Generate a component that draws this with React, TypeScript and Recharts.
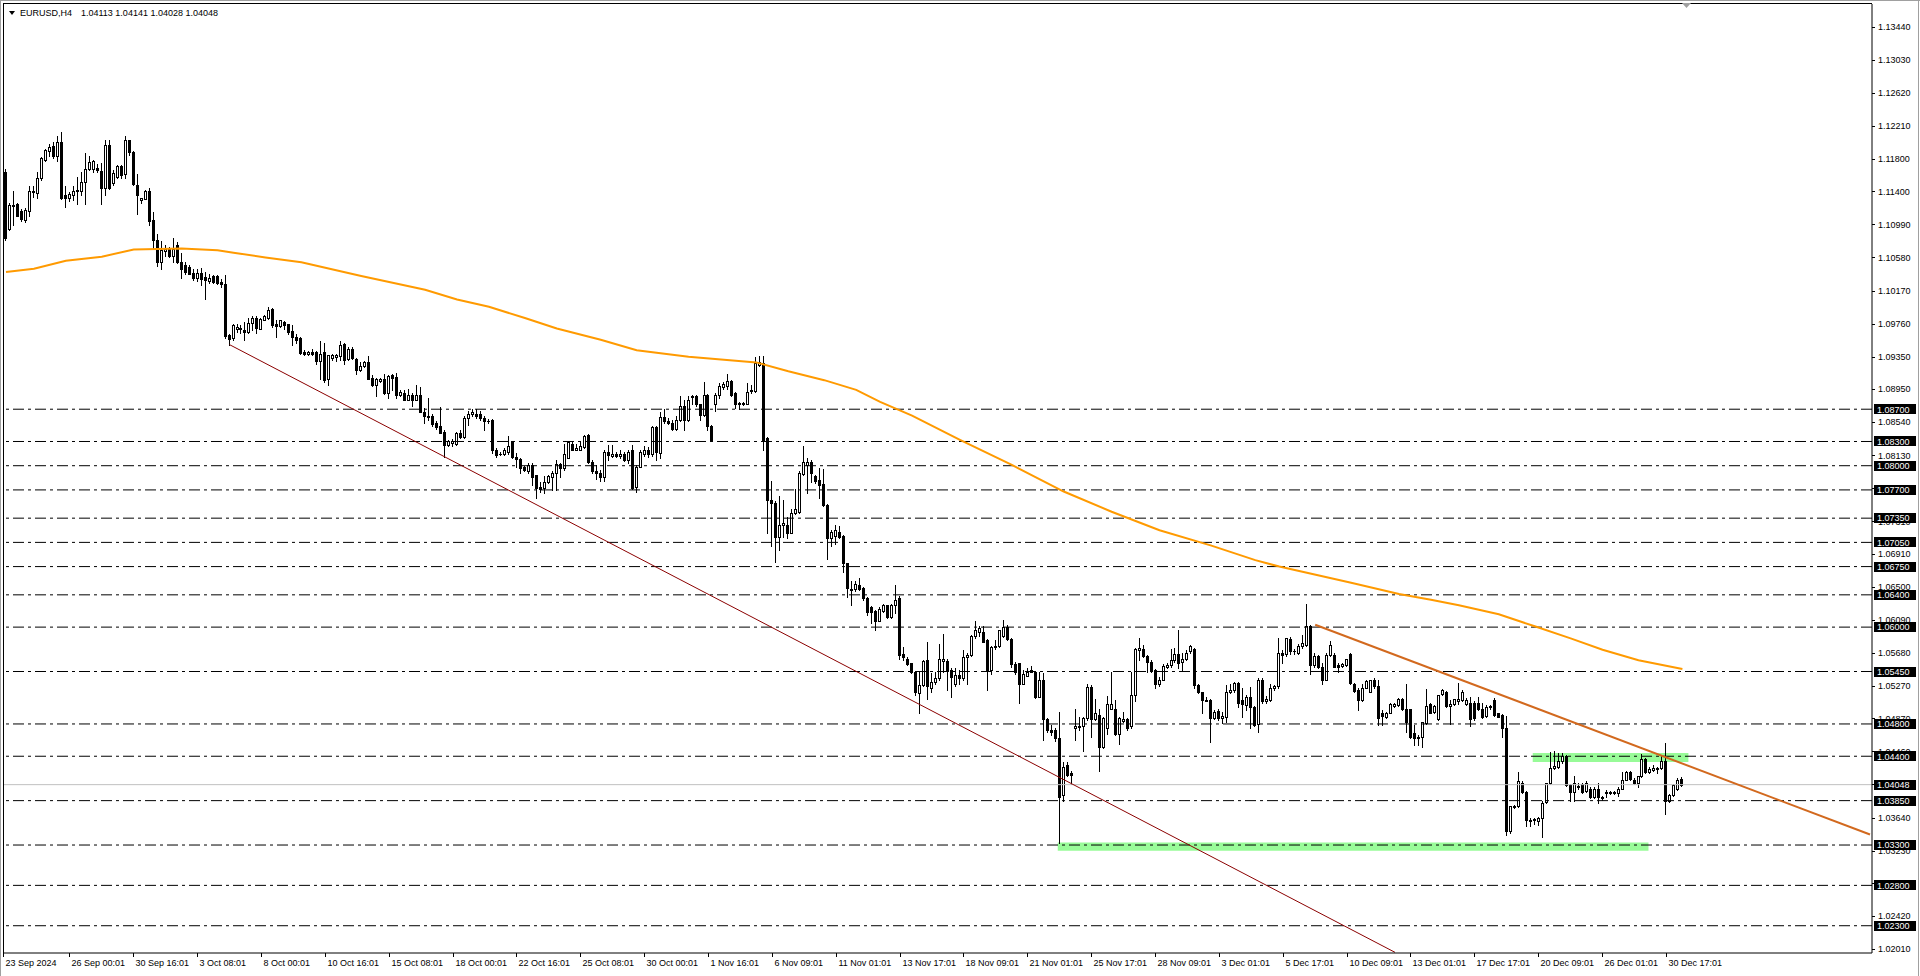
import { ComposedChart, Bar, Line, XAxis, YAxis, ReferenceLine, ReferenceArea } from 'recharts';

const FONT = '"Liberation Sans", Arial, sans-serif';

// bar slots on the time axis: slot 2 = 23 Sep 2024 08:01, slot 422 = 31 Dec 09:01,
// the axis carries on to slot 469 (MT4 chart shift)
const firstSlot = 2;
const lastSlot = 469;

// EURUSD H4, [open, high, low, close] from slot 2 onward
const candles: number[][] = [
  [1.1164,1.1168,1.1080,1.1082],[1.1093,1.1126,1.1092,1.1123],[1.1123,1.1141,1.1098,1.1122],[1.1124,1.1126,1.1109,1.1110],
  [1.1116,1.1118,1.1103,1.1106],[1.1104,1.1119,1.1102,1.1117],[1.1115,1.1146,1.1110,1.1141],[1.1141,1.1147,1.1133,1.1139],
  [1.1138,1.1164,1.1132,1.1157],[1.1157,1.1183,1.1154,1.1181],[1.1179,1.1193,1.1177,1.1191],[1.1190,1.1199,1.1184,1.1195],
  [1.1196,1.1201,1.1181,1.1184],[1.1184,1.1208,1.1177,1.1201],[1.1201,1.1214,1.1130,1.1132],[1.1135,1.1146,1.1121,1.1132],
  [1.1132,1.1139,1.1128,1.1137],[1.1135,1.1146,1.1129,1.1141],[1.1141,1.1158,1.1124,1.1142],[1.1141,1.1164,1.1135,1.1151],
  [1.1151,1.1188,1.1124,1.1168],[1.1168,1.1184,1.1167,1.1176],[1.1168,1.1179,1.1164,1.1177],[1.1169,1.1174,1.1164,1.1166],
  [1.1165,1.1175,1.1124,1.1144],[1.1144,1.1203,1.1135,1.1197],[1.1197,1.1203,1.1143,1.1144],[1.1150,1.1166,1.1148,1.1163],
  [1.1158,1.1173,1.1157,1.1171],[1.1171,1.1172,1.1156,1.1160],[1.1161,1.1208,1.1156,1.1203],[1.1203,1.1204,1.1185,1.1189],
  [1.1189,1.1190,1.1148,1.1149],[1.1148,1.1162,1.1112,1.1135],[1.1129,1.1132,1.1126,1.1132],[1.1131,1.1142,1.1130,1.1141],
  [1.1141,1.1144,1.1098,1.1103],[1.1104,1.1114,1.1069,1.1080],[1.1080,1.1087,1.1047,1.1052],[1.1053,1.1078,1.1044,1.1067],
  [1.1066,1.1073,1.1060,1.1068],[1.1068,1.1071,1.1059,1.1060],[1.1060,1.1082,1.1053,1.1068],[1.1073,1.1077,1.1051,1.1052],
  [1.1053,1.1063,1.1032,1.1044],[1.1049,1.1053,1.1038,1.1040],[1.1046,1.1049,1.1037,1.1038],[1.1039,1.1044,1.1030,1.1033],
  [1.1033,1.1044,1.1029,1.1039],[1.1039,1.1045,1.1024,1.1031],[1.1034,1.1040,1.1007,1.1030],[1.1029,1.1038,1.1026,1.1033],
  [1.1035,1.1036,1.1026,1.1028],[1.1035,1.1036,1.1025,1.1027],[1.1028,1.1031,1.1022,1.1025],[1.1025,1.1036,1.0958,1.0961],
  [1.0962,1.0963,1.0950,1.0957],[1.0958,1.0976,1.0956,1.0974],[1.0969,1.0976,1.0966,1.0972],[1.0969,1.0974,1.0965,1.0971],
  [1.0968,1.0978,1.0956,1.0966],[1.0966,1.0983,1.0965,1.0977],[1.0977,1.0985,1.0968,1.0983],[1.0983,1.0985,1.0964,1.0971],
  [1.0970,1.0983,1.0969,1.0982],[1.0981,1.0987,1.0980,1.0985],[1.0983,1.0997,1.0982,1.0993],[1.0994,1.0995,1.0972,1.0974],
  [1.0975,1.0980,1.0960,1.0973],[1.0973,1.0980,1.0972,1.0980],[1.0978,1.0979,1.0969,1.0974],[1.0975,1.0976,1.0963,1.0966],
  [1.0967,1.0974,1.0950,1.0959],[1.0959,1.0963,1.0952,1.0956],
  // slot 76
  [1.0958,1.0959,1.0938,1.0940],[1.0941,1.0943,1.0937,1.0939],[1.0938,1.0942,1.0937,1.0941],[1.0941,1.0944,1.0937,1.0939],
  [1.0941,1.0942,1.0926,1.0930],[1.0930,1.0955,1.0907,1.0939],[1.0941,1.0952,1.0904,1.0906],[1.0907,1.0937,1.0900,1.0937],
  [1.0933,1.0938,1.0931,1.0937],[1.0935,1.0939,1.0930,1.0937],[1.0936,1.0954,1.0931,1.0950],[1.0951,1.0952,1.0926,1.0931],
  [1.0932,1.0947,1.0931,1.0945],[1.0945,1.0947,1.0932,1.0933],[1.0932,1.0933,1.0914,1.0918],[1.0918,1.0929,1.0917,1.0923],
  [1.0923,1.0930,1.0922,1.0928],[1.0929,1.0936,1.0907,1.0908],[1.0909,1.0912,1.0899,1.0900],[1.0900,1.0909,1.0886,1.0908],
  [1.0905,1.0909,1.0904,1.0907],[1.0908,1.0914,1.0889,1.0890],[1.0890,1.0912,1.0884,1.0911],[1.0912,1.0914,1.0894,1.0909],
  [1.0910,1.0915,1.0884,1.0888],[1.0888,1.0894,1.0886,1.0891],[1.0890,1.0894,1.0881,1.0882],[1.0882,1.0895,1.0881,1.0887],
  [1.0887,1.0890,1.0874,1.0882],[1.0882,1.0900,1.0881,1.0888],[1.0887,1.0898,1.0866,1.0867],[1.0867,1.0871,1.0853,1.0861],
  [1.0860,1.0884,1.0857,1.0862],[1.0862,1.0864,1.0849,1.0852],[1.0853,1.0855,1.0846,1.0848],[1.0849,1.0873,1.0840,1.0841],
  [1.0842,1.0844,1.0811,1.0826],[1.0826,1.0832,1.0824,1.0830],[1.0828,1.0833,1.0824,1.0830],[1.0827,1.0842,1.0826,1.0840],
  [1.0840,1.0844,1.0834,1.0836],[1.0836,1.0861,1.0834,1.0859],[1.0859,1.0868,1.0851,1.0864],[1.0864,1.0870,1.0862,1.0867],
  [1.0864,1.0870,1.0859,1.0862],[1.0864,1.0868,1.0857,1.0859],[1.0859,1.0862,1.0844,1.0855],[1.0856,1.0858,1.0853,1.0855],
  [1.0857,1.0858,1.0816,1.0819],[1.0820,1.0822,1.0811,1.0813],[1.0815,1.0817,1.0813,1.0814],[1.0815,1.0822,1.0813,1.0819],
  [1.0817,1.0837,1.0815,1.0824],[1.0830,1.0831,1.0810,1.0811],[1.0811,1.0816,1.0799,1.0808],[1.0808,1.0809,1.0791,1.0797],
  [1.0798,1.0800,1.0793,1.0795],[1.0793,1.0803,1.0791,1.0801],[1.0801,1.0803,1.0776,1.0786],[1.0788,1.0789,1.0760,1.0772],
  [1.0773,1.0780,1.0768,1.0771],[1.0772,1.0787,1.0766,1.0780],[1.0780,1.0788,1.0778,1.0787],[1.0786,1.0793,1.0770,1.0791],
  [1.0791,1.0807,1.0770,1.0802],[1.0802,1.0803,1.0786,1.0797],[1.0797,1.0827,1.0795,1.0815],[1.0810,1.0830,1.0809,1.0829],
  [1.0827,1.0829,1.0819,1.0820],[1.0820,1.0827,1.0819,1.0822],[1.0820,1.0830,1.0819,1.0824],[1.0823,1.0838,1.0822,1.0837],
  [1.0838,1.0839,1.0803,1.0804],[1.0805,1.0807,1.0791,1.0793],[1.0793,1.0801,1.0784,1.0791],
  // slot 151
  [1.0791,1.0795,1.0781,1.0786],[1.0786,1.0820,1.0781,1.0817],[1.0817,1.0826,1.0807,1.0813],[1.0812,1.0826,1.0811,1.0815],
  [1.0815,1.0817,1.0811,1.0812],[1.0812,1.0820,1.0809,1.0815],[1.0815,1.0817,1.0806,1.0807],[1.0807,1.0820,1.0803,1.0817],
  [1.0820,1.0826,1.0771,1.0772],[1.0773,1.0801,1.0767,1.0799],[1.0799,1.0820,1.0798,1.0817],[1.0815,1.0824,1.0812,1.0820],
  [1.0820,1.0823,1.0811,1.0815],[1.0815,1.0849,1.0812,1.0848],[1.0848,1.0849,1.0807,1.0817],[1.0816,1.0867,1.0810,1.0860],
  [1.0860,1.0870,1.0853,1.0855],[1.0856,1.0859,1.0852,1.0853],[1.0853,1.0857,1.0844,1.0845],[1.0845,1.0861,1.0844,1.0857],
  [1.0857,1.0886,1.0855,1.0874],[1.0874,1.0881,1.0844,1.0857],[1.0857,1.0886,1.0855,1.0882],[1.0885,1.0888,1.0877,1.0886],
  [1.0886,1.0888,1.0874,1.0876],[1.0876,1.0877,1.0857,1.0863],[1.0863,1.0904,1.0862,1.0888],[1.0888,1.0889,1.0844,1.0849],
  [1.0849,1.0850,1.0830,1.0832],[1.0876,1.0890,1.0868,1.0888],[1.0888,1.0902,1.0884,1.0899],[1.0897,1.0904,1.0895,1.0901],
  [1.0899,1.0914,1.0895,1.0905],[1.0905,1.0906,1.0886,1.0888],[1.0890,1.0891,1.0871,1.0876],[1.0877,1.0879,1.0870,1.0878],
  [1.0876,1.0879,1.0875,1.0878],[1.0877,1.0902,1.0876,1.0891],[1.0892,1.0900,1.0890,1.0894],[1.0893,1.0935,1.0891,1.0927],
  [1.0925,1.0936,1.0923,1.0929],[1.0927,1.0936,1.0820,1.0832],[1.0834,1.0835,1.0717,1.0757],[1.0758,1.0781,1.0701,1.0754],
  [1.0754,1.0756,1.0681,1.0712],[1.0712,1.0762,1.0696,1.0727],[1.0727,1.0758,1.0712,1.0729],[1.0727,1.0737,1.0711,1.0717],
  [1.0717,1.0746,1.0716,1.0742],[1.0742,1.0771,1.0740,1.0746],[1.0743,1.0793,1.0741,1.0791],[1.0790,1.0824,1.0789,1.0804],
  [1.0801,1.0809,1.0766,1.0805],[1.0804,1.0807,1.0780,1.0791],[1.0787,1.0788,1.0778,1.0781],[1.0782,1.0797,1.0760,1.0776],
  [1.0777,1.0796,1.0750,1.0751],[1.0751,1.0753,1.0685,1.0710],[1.0710,1.0720,1.0700,1.0718],[1.0713,1.0727,1.0703,1.0720],
  [1.0718,1.0725,1.0711,1.0712],[1.0713,1.0714,1.0668,1.0679],[1.0679,1.0680,1.0637,1.0648],[1.0647,1.0657,1.0627,1.0646],
  [1.0647,1.0657,1.0645,1.0654],[1.0652,1.0661,1.0646,1.0647],[1.0649,1.0650,1.0634,1.0636],[1.0636,1.0637,1.0615,1.0619],
  [1.0625,1.0626,1.0605,1.0619],[1.0620,1.0621,1.0596,1.0607],[1.0608,1.0625,1.0607,1.0623],[1.0620,1.0629,1.0619,1.0627],
  [1.0627,1.0628,1.0611,1.0613],[1.0613,1.0629,1.0611,1.0627],[1.0627,1.0652,1.0617,1.0634],[1.0636,1.0638,1.0561,1.0565],
  // slot 227
  [1.0567,1.0575,1.0559,1.0563],[1.0561,1.0563,1.0553,1.0554],[1.0555,1.0556,1.0543,1.0544],[1.0544,1.0545,1.0516,1.0519],
  [1.0518,1.0545,1.0494,1.0528],[1.0528,1.0559,1.0527,1.0558],[1.0559,1.0581,1.0511,1.0527],[1.0524,1.0543,1.0520,1.0532],
  [1.0532,1.0545,1.0530,1.0537],[1.0537,1.0579,1.0535,1.0560],[1.0558,1.0591,1.0544,1.0560],[1.0558,1.0561,1.0522,1.0546],
  [1.0547,1.0549,1.0514,1.0538],[1.0530,1.0549,1.0527,1.0541],[1.0541,1.0547,1.0530,1.0537],[1.0537,1.0572,1.0535,1.0563],
  [1.0563,1.0568,1.0530,1.0565],[1.0565,1.0590,1.0564,1.0589],[1.0589,1.0607,1.0586,1.0596],[1.0594,1.0601,1.0589,1.0599],
  [1.0594,1.0601,1.0581,1.0582],[1.0584,1.0585,1.0522,1.0546],[1.0547,1.0577,1.0542,1.0575],[1.0577,1.0584,1.0573,1.0575],
  [1.0576,1.0597,1.0575,1.0596],[1.0589,1.0609,1.0588,1.0600],[1.0600,1.0603,1.0584,1.0585],[1.0585,1.0586,1.0551,1.0554],
  [1.0554,1.0557,1.0542,1.0544],[1.0555,1.0556,1.0506,1.0530],[1.0530,1.0547,1.0529,1.0542],[1.0540,1.0549,1.0539,1.0545],
  [1.0545,1.0552,1.0544,1.0547],[1.0545,1.0546,1.0512,1.0514],[1.0514,1.0545,1.0513,1.0534],[1.0534,1.0543,1.0460,1.0486],
  [1.0486,1.0487,1.0470,1.0472],[1.0472,1.0479,1.0466,1.0470],[1.0472,1.0475,1.0459,1.0462],[1.0462,1.0495,1.0332,1.0390],
  [1.0392,1.0433,1.0384,1.0427],[1.0429,1.0433,1.0415,1.0417],[1.0419,1.0422,1.0406,1.0417],[1.0475,1.0498,1.0460,1.0477],
  [1.0476,1.0489,1.0472,1.0478],[1.0477,1.0489,1.0447,1.0487],[1.0487,1.0530,1.0485,1.0526],[1.0526,1.0528,1.0464,1.0486],
  [1.0486,1.0511,1.0485,1.0494],[1.0491,1.0499,1.0422,1.0451],[1.0451,1.0489,1.0450,1.0487],[1.0475,1.0515,1.0468,1.0505],
  [1.0499,1.0544,1.0498,1.0505],[1.0499,1.0510,1.0466,1.0468],[1.0468,1.0489,1.0455,1.0487],[1.0484,1.0495,1.0483,1.0486],
  [1.0486,1.0487,1.0472,1.0475],[1.0477,1.0544,1.0475,1.0516],[1.0516,1.0574,1.0508,1.0573],[1.0572,1.0586,1.0559,1.0574],
  [1.0573,1.0578,1.0563,1.0564],[1.0564,1.0565,1.0545,1.0557],[1.0557,1.0559,1.0545,1.0546],[1.0547,1.0548,1.0525,1.0530],
  [1.0530,1.0538,1.0527,1.0535],[1.0535,1.0554,1.0534,1.0552],[1.0551,1.0555,1.0549,1.0553],[1.0553,1.0573,1.0551,1.0559],
  [1.0559,1.0574,1.0557,1.0567],[1.0567,1.0596,1.0549,1.0556],[1.0557,1.0568,1.0547,1.0561],[1.0560,1.0572,1.0559,1.0568],
  [1.0570,1.0578,1.0568,1.0577],[1.0573,1.0574,1.0525,1.0528],[1.0528,1.0530,1.0518,1.0519],[1.0519,1.0520,1.0494,1.0510],
  [1.0510,1.0514,1.0508,1.0509],[1.0510,1.0511,1.0458,1.0488],[1.0488,1.0497,1.0486,1.0495],[1.0496,1.0499,1.0485,1.0487],
  [1.0487,1.0495,1.0481,1.0490],[1.0489,1.0528,1.0482,1.0519],[1.0519,1.0530,1.0518,1.0522],[1.0522,1.0532,1.0519,1.0531],
  [1.0531,1.0532,1.0501,1.0506],[1.0510,1.0524,1.0489,1.0505],[1.0504,1.0516,1.0497,1.0513],[1.0513,1.0526,1.0475,1.0501],
  [1.0501,1.0502,1.0477,1.0479],[1.0480,1.0537,1.0470,1.0535],[1.0535,1.0537,1.0506,1.0508],[1.0509,1.0515,1.0506,1.0511],
  [1.0510,1.0530,1.0509,1.0524],
  // slot 320
  [1.0525,1.0528,1.0522,1.0527],[1.0527,1.0587,1.0524,1.0568],[1.0568,1.0572,1.0555,1.0566],[1.0567,1.0587,1.0564,1.0586],
  [1.0585,1.0588,1.0567,1.0570],[1.0570,1.0573,1.0567,1.0571],[1.0568,1.0579,1.0567,1.0577],[1.0576,1.0590,1.0574,1.0580],
  [1.0578,1.0629,1.0576,1.0601],[1.0601,1.0603,1.0542,1.0553],[1.0553,1.0568,1.0551,1.0564],[1.0564,1.0566,1.0549,1.0551],
  [1.0551,1.0555,1.0530,1.0535],[1.0535,1.0568,1.0534,1.0566],[1.0566,1.0583,1.0564,1.0578],[1.0566,1.0568,1.0550,1.0551],
  [1.0553,1.0555,1.0545,1.0551],[1.0552,1.0556,1.0550,1.0554],[1.0553,1.0561,1.0552,1.0560],[1.0567,1.0568,1.0530,1.0531],
  [1.0530,1.0531,1.0520,1.0521],[1.0522,1.0525,1.0497,1.0510],[1.0510,1.0530,1.0509,1.0525],[1.0525,1.0534,1.0524,1.0533],
  [1.0520,1.0535,1.0519,1.0534],[1.0534,1.0537,1.0525,1.0527],[1.0527,1.0535,1.0479,1.0487],[1.0493,1.0497,1.0479,1.0490],
  [1.0489,1.0495,1.0488,1.0494],[1.0494,1.0506,1.0493,1.0505],[1.0502,1.0506,1.0501,1.0505],[1.0504,1.0512,1.0502,1.0511],
  [1.0511,1.0512,1.0497,1.0499],[1.0499,1.0530,1.0470,1.0483],[1.0498,1.0499,1.0462,1.0464],[1.0469,1.0479,1.0454,1.0462],
  [1.0464,1.0466,1.0454,1.0463],[1.0464,1.0483,1.0451,1.0483],[1.0481,1.0523,1.0480,1.0502],[1.0505,1.0506,1.0493,1.0494],
  [1.0495,1.0504,1.0494,1.0502],[1.0486,1.0516,1.0485,1.0516],[1.0517,1.0523,1.0516,1.0522],[1.0519,1.0521,1.0501,1.0502],
  [1.0502,1.0510,1.0480,1.0505],[1.0505,1.0511,1.0504,1.0511],[1.0509,1.0531,1.0505,1.0511],[1.0510,1.0522,1.0509,1.0520],
  [1.0505,1.0512,1.0504,1.0510],[1.0506,1.0514,1.0477,1.0486],[1.0506,1.0508,1.0485,1.0487],[1.0506,1.0514,1.0497,1.0498],
  [1.0499,1.0506,1.0487,1.0489],[1.0490,1.0504,1.0489,1.0501],[1.0501,1.0504,1.0499,1.0502],[1.0510,1.0512,1.0490,1.0491],
  [1.0493,1.0494,1.0489,1.0489],[1.0491,1.0492,1.0464,1.0475],[1.0475,1.0490,1.0342,1.0347],[1.0347,1.0378,1.0345,1.0378],
  [1.0377,1.0380,1.0376,1.0378],[1.0378,1.0420,1.0377,1.0409],[1.0407,1.0409,1.0395,1.0396],[1.0396,1.0397,1.0353,1.0361],
  [1.0361,1.0363,1.0353,1.0360],[1.0361,1.0363,1.0356,1.0362],[1.0360,1.0365,1.0355,1.0364],[1.0363,1.0384,1.0340,1.0382],
  [1.0383,1.0407,1.0382,1.0407],[1.0407,1.0445,1.0406,1.0425],[1.0425,1.0446,1.0424,1.0428],[1.0427,1.0444,1.0426,1.0434],
  [1.0434,1.0444,1.0432,1.0440],[1.0440,1.0441,1.0403,1.0404],[1.0404,1.0406,1.0384,1.0396],[1.0396,1.0415,1.0384,1.0407],
  [1.0402,1.0407,1.0400,1.0403],[1.0406,1.0407,1.0395,1.0396],[1.0397,1.0409,1.0396,1.0407],[1.0400,1.0402,1.0388,1.0389],
  [1.0389,1.0402,1.0388,1.0400],[1.0400,1.0407,1.0382,1.0389],[1.0389,1.0391,1.0386,1.0388],[1.0395,1.0398,1.0390,1.0396],
  [1.0395,1.0397,1.0393,1.0396],[1.0395,1.0397,1.0393,1.0396],[1.0395,1.0402,1.0391,1.0400],[1.0400,1.0421,1.0399,1.0411],
  [1.0411,1.0422,1.0410,1.0421],[1.0421,1.0422,1.0411,1.0412],[1.0411,1.0413,1.0406,1.0407],[1.0407,1.0415,1.0402,1.0415],
  [1.0415,1.0443,1.0414,1.0436],[1.0436,1.0438,1.0419,1.0420],[1.0420,1.0427,1.0419,1.0424],[1.0423,1.0429,1.0422,1.0425],
  [1.0425,1.0427,1.0419,1.0424],[1.0425,1.0440,1.0424,1.0434],[1.0434,1.0456,1.0369,1.0384],[1.0384,1.0393,1.0383,1.0392],
  [1.0392,1.0406,1.0391,1.0404],[1.0399,1.0413,1.0398,1.0411],[1.04113,1.04141,1.04028,1.04048],
];

// 200-period moving average, read at a few slots (the line joins them)
const maSlots = [2, 9, 17, 26, 34, 46, 55, 59, 67, 76, 91, 107, 115, 123, 132, 140, 151, 160, 173, 190, 198, 207, 215, 221,
  229, 241, 254, 267, 279, 291, 304, 315, 321, 339, 351, 359, 366, 376, 385, 394, 402, 411, 422];
const maValues = [1.1040, 1.1044, 1.1054, 1.1059, 1.1068, 1.1069, 1.1067, 1.1064, 1.1058, 1.1052, 1.1035, 1.1018, 1.1006,
  1.0997, 1.0983, 1.0970, 1.0956, 1.0943, 1.0935, 1.0928, 1.0917, 1.0906, 1.0894, 1.0879, 1.0862, 1.0832, 1.0801, 1.0768,
  1.0743, 1.0720, 1.0701, 1.0683, 1.0675, 1.0655, 1.0641, 1.0634, 1.0627, 1.0616, 1.0601, 1.0586, 1.0572, 1.0559, 1.0548];

// horizontal levels (dash-dot) and the bid line
const levels = [1.087, 1.083, 1.08, 1.077, 1.0735, 1.0705, 1.0675, 1.064, 1.06, 1.0545, 1.048, 1.044, 1.0385, 1.033, 1.028, 1.023];
const bid = 1.04048;

// trend lines: [slot, price] → [slot, price]
const trendColors = ['#8b0000', '#d2691e'];
const trendWidths = [1, 2];
const trendFromSlot = [58, 330];
const trendFromPrice = [1.0950, 1.0603];
const trendToSlot = [350, 469];
const trendToPrice = [1.0197, 1.0343];

// green zones
const zoneFromSlot = [266, 385];
const zoneToSlot = [413, 423];
const zoneLow = [1.0323, 1.0433];
const zoneHigh = [1.0333, 1.0444];

const priceTicks = [1.1344, 1.1303, 1.1262, 1.1221, 1.118, 1.114, 1.1099, 1.1058, 1.1017, 1.0976, 1.0935, 1.0895, 1.0854,
  1.0813, 1.0772, 1.0731, 1.0691, 1.065, 1.0609, 1.0568, 1.0527, 1.0487, 1.0446, 1.0405, 1.0364, 1.0323, 1.0283, 1.0242, 1.0201];
const priceMin = 1.01962;
const priceMax = 1.13721;

const timeSlots = [2, 18, 34, 50, 66, 82, 98, 114, 130, 146, 162, 178, 194, 210, 226, 242, 258, 274, 290, 306, 322, 338,
  354, 370, 386, 402, 418];
const timeLabels = ['23 Sep 2024', '26 Sep 00:01', '30 Sep 16:01', '3 Oct 08:01', '8 Oct 00:01', '10 Oct 16:01',
  '15 Oct 08:01', '18 Oct 00:01', '22 Oct 16:01', '25 Oct 08:01', '30 Oct 00:01', '1 Nov 16:01', '6 Nov 09:01',
  '11 Nov 01:01', '13 Nov 17:01', '18 Nov 09:01', '21 Nov 01:01', '25 Nov 17:01', '28 Nov 09:01', '3 Dec 01:01',
  '5 Dec 17:01', '10 Dec 09:01', '13 Dec 01:01', '17 Dec 17:01', '20 Dec 09:01', '26 Dec 01:01', '30 Dec 17:01'];

const data: any[] = [];
for (let s = firstSlot; s <= lastSlot; s++) {
  const row: any = { s, ma: null };
  const c = candles[s - firstSlot];
  if (c) {
    row.o = c[0]; row.h = c[1]; row.l = c[2]; row.c = c[3];
    row.range = [c[2], c[1]];
  }
  const mi = maSlots.indexOf(s);
  if (mi >= 0) row.ma = maValues[mi];
  data.push(row);
}

function Candle(props: any) {
  const { x, y, width, height, payload } = props;
  if (!payload || payload.o == null || !isFinite(y)) return null;
  const { o, h, l, c } = payload;
  const span = h - l;
  const py = (v: number) => y + (span > 0 ? ((h - v) / span) * height : 0);
  const cx = Math.floor(x + width / 2);
  const top = Math.round(py(Math.max(o, c)));
  const bot = Math.round(py(Math.min(o, c)));
  const hi = Math.round(py(h));
  const lo = Math.round(py(l));
  let body;
  if (bot - top < 1) {
    body = <line x1={cx - 1} x2={cx + 2} y1={top + 0.5} y2={top + 0.5} stroke="#000" />;
  } else if (c >= o) {
    body = <rect x={cx - 0.5} y={top + 0.5} width={2} height={bot - top} fill="#fff" stroke="#000" />;
  } else {
    body = <rect x={cx - 1} y={top} width={3} height={bot - top + 1} fill="#000" />;
  }
  return (
    <g shapeRendering="crispEdges">
      <line x1={cx + 0.5} x2={cx + 0.5} y1={hi} y2={lo + 1} stroke="#000" />
      {body}
    </g>
  );
}

function TimeTick(props: any) {
  const { x, y, payload, index } = props;
  const i = timeSlots.indexOf(payload.value);
  const tx = Math.floor(index === 0 ? x - 2 : x) + 0.5;
  return (
    <g>
      <line x1={tx} x2={tx} y1={y} y2={y + 4} stroke="#000" shapeRendering="crispEdges" />
      <text x={tx + 2} y={y + 13} fontSize={9} fontFamily={FONT} fill="#000">{timeLabels[i]}</text>
    </g>
  );
}

function PriceTick(props: any) {
  const { x, y, payload } = props;
  const v = payload.value as number;
  const txt = v.toFixed(5);
  const boxed = levels.includes(v) || v === bid;
  if (boxed) {
    return (
      <g>
        <rect x={x + 2} y={Math.round(y) - 5} width={42} height={10} fill="#000" />
        <text x={x + 5} y={y + 3.3} fontSize={9} fontFamily={FONT} fill="#fff">{txt}</text>
      </g>
    );
  }
  return (
    <g>
      <line x1={x} x2={x + 3} y1={Math.round(y) + 0.5} y2={Math.round(y) + 0.5} stroke="#000" shapeRendering="crispEdges" />
      <text x={x + 6} y={y + 3.3} fontSize={9} fontFamily={FONT} fill="#000">{txt}</text>
    </g>
  );
}

export default function App() {
  return (
    <div style={{ position: 'relative', width: 1920, height: 976, background: '#fff' }}>
      <style>{'body{margin:0;background:#fff}'}</style>
      <ComposedChart width={1920} height={976} data={data} margin={{ top: 4, right: 0, bottom: 0, left: 4 }}>
        <XAxis dataKey="s" type="category" height={23} ticks={timeSlots} interval={0} tick={<TimeTick />}
          tickLine={false} tickSize={0} tickMargin={0} axisLine={{ stroke: '#000' }} />
        <YAxis orientation="right" width={48} type="number" domain={[priceMin, priceMax]} allowDataOverflow
          ticks={[...priceTicks, ...levels, bid]} interval={0} tick={<PriceTick />} tickLine={false}
          tickSize={0} tickMargin={0} axisLine={{ stroke: '#000' }} />
        {zoneFromSlot.map((f, i) => (
          <ReferenceArea key={`z${i}`} x1={f} x2={zoneToSlot[i]} y1={zoneLow[i]} y2={zoneHigh[i]}
            fill="#98fb98" fillOpacity={1} stroke="none" ifOverflow="hidden" />
        ))}
        <ReferenceLine y={bid} stroke="#c0c0c0" />
        {levels.map((lv) => (
          <ReferenceLine key={lv} y={lv} stroke="#000" strokeDasharray="11 4 3 4" />
        ))}
        <Bar dataKey="range" barSize={3} shape={<Candle />} isAnimationActive={false} />
        <Line dataKey="ma" type="linear" stroke="#ff9a00" strokeWidth={2} dot={false} activeDot={false}
          connectNulls isAnimationActive={false} />
        {trendFromSlot.map((f, i) => (
          <ReferenceLine key={`t${i}`} segment={[{ x: f, y: trendFromPrice[i] }, { x: trendToSlot[i], y: trendToPrice[i] }]}
            stroke={trendColors[i]} strokeWidth={trendWidths[i]} ifOverflow="hidden" />
        ))}
      </ComposedChart>
      <svg width={1920} height={976} style={{ position: 'absolute', left: 0, top: 0, pointerEvents: 'none' }}>
        <line x1={0.5} x2={0.5} y1={0} y2={976} stroke="#a0a0a0" />
        <line x1={0} x2={1920} y1={0.5} y2={0.5} stroke="#a0a0a0" />
        <line x1={3.5} x2={3.5} y1={3} y2={953} stroke="#000" />
        <line x1={3} x2={1872} y1={3.5} y2={3.5} stroke="#000" />
        <line x1={1918.5} x2={1918.5} y1={0} y2={976} stroke="#a0a0a0" />
        <polygon points="9,11 15,11 12,15" fill="#000" />
        <text x={20} y={15.5} fontSize={9} fontFamily={FONT} fill="#000">EURUSD,H4</text>
        <text x={81} y={15.5} fontSize={9} fontFamily={FONT} fill="#000">1.04113 1.04141 1.04028 1.04048</text>
        <polygon points="1682,3 1691,3 1686.5,8" fill="#a0a0a0" />
      </svg>
    </div>
  );
}
